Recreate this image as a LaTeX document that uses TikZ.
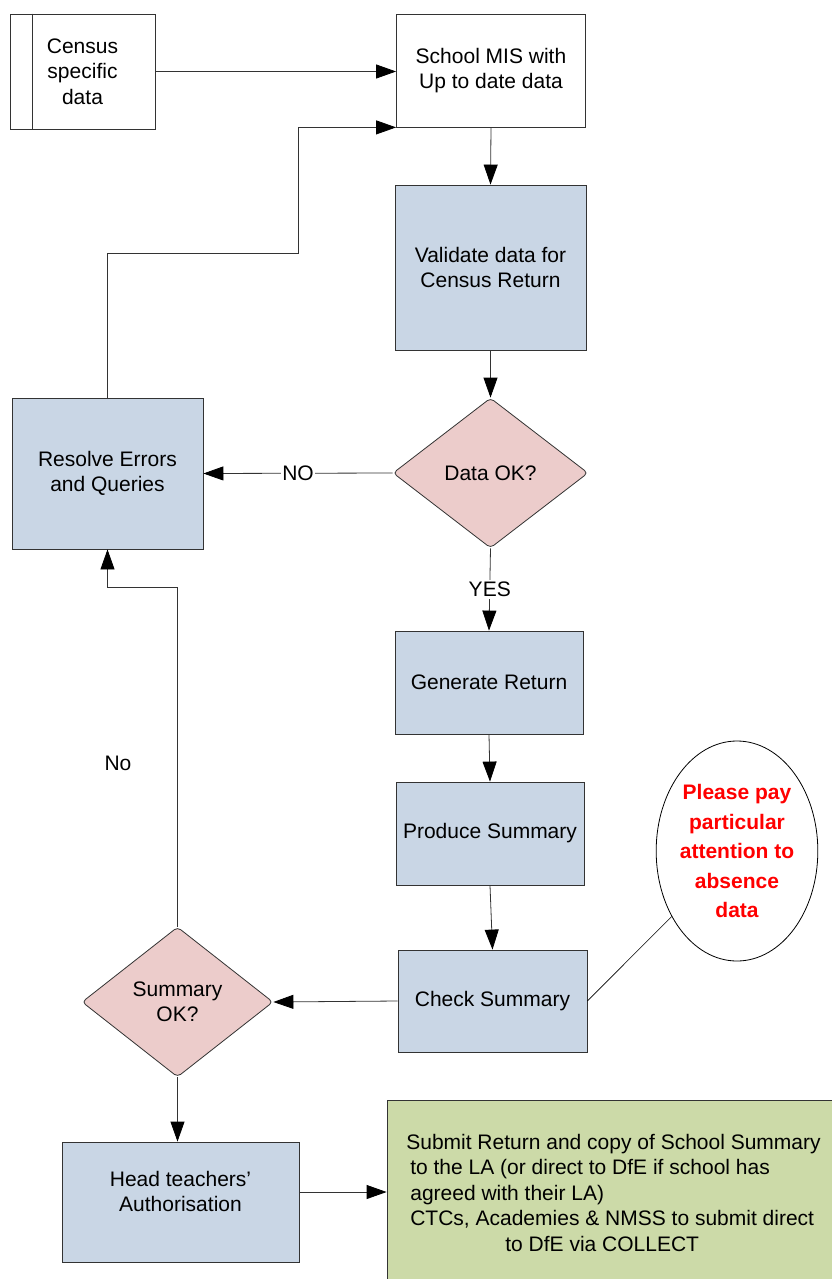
\documentclass[tikz,border=0pt]{standalone}
\usepackage{fontspec}
\setmainfont{Liberation Sans}
\usetikzlibrary{shapes.geometric, arrows.meta}
\definecolor{procblue}{RGB}{201,214,229}
\definecolor{decpink}{RGB}{236,204,203}
\definecolor{subgreen}{RGB}{204,218,168}

\begin{document}
\begin{tikzpicture}[x=1pt, y=-1pt, >={Triangle[length=20pt, width=14pt, color=black]},
	every node/.style={font=\fontsize{21}{25.5}\selectfont, align=center, inner sep=0pt},
	box/.style={rectangle, draw=black!80, line width=0.8pt},
	proc/.style={box, fill=procblue},
	decide/.style={diamond, draw=black!80, line width=0.8pt, fill=decpink, rounded corners=4pt},
	flow/.style={->, draw=black!80, line width=0.8pt}]
			\useasboundingbox (0,0) rectangle (832,1279);
			\node[box, minimum width=145pt, minimum height=115pt] (census) at (82.5,71.5) {Census\\specific\\data};
			\draw[black!80, line width=0.8pt] ([xshift=23pt]census.north west) -- ([xshift=23pt]census.south west);
			\node[box, minimum width=189pt, minimum height=113pt] (mis) at (491,70.5) {School MIS with\\Up to date data};
			\node[proc, minimum width=191pt, minimum height=165pt] (validate) at (490.5,267.5) {Validate data for\\Census Return};
			\node[decide, minimum width=195pt, minimum height=150pt] (dataok) at (490.5,473) {Data OK?};
			\node[proc, minimum width=191pt, minimum height=151pt] (resolve) at (107.5,473.5) {Resolve Errors\\and Queries};
			\node[proc, minimum width=188pt, minimum height=103pt] (generate) at (489,682.5) {Generate Return};
			\node[proc, minimum width=188pt, minimum height=103pt] (produce) at (490,833.5) {Produce Summary};
			\node[proc, minimum width=189pt, minimum height=102pt] (check) at (492.5,1001) {Check Summary};
			\node[decide, minimum width=191pt, minimum height=150pt] (sumok) at (177.5,1002) {Summary\\OK?};
			\node[proc, minimum width=237pt, minimum height=120pt] (head) at (180.5,1202) {Head teachers'\\Authorisation\\[-4pt]\mbox{}};
			\node[box, fill=subgreen, align=left, minimum width=453pt, minimum height=185pt] (submit) at (613.5,1192.5) {Submit Return and copy of School Summary\\\hspace*{4pt}to the LA (or direct to DfE if school has\\\hspace*{4pt}agreed with their LA)\\\hspace*{4pt}CTCs, Academies \& NMSS to submit direct\\\hspace*{99pt}to DfE via COLLECT};
			\node[ellipse, draw=black, line width=0.8pt, fill=white, minimum width=150pt, minimum height=220pt, text=red, font=\fontsize{21}{29.5}\selectfont\bfseries] (note) at (737,851) {Please pay\\particular\\attention to\\absence\\data};
			\node (nolabel) at (118,763) {No};
			\coordinate (benda) at (298,253);
			\coordinate (bendb) at (177.5,587);
			\coordinate (headout) at ([yshift=10pt]head.east);
			\draw[flow] (census.east) -- (mis.west |- census.east);
			\draw[flow] (resolve.north) |- (benda) |- (mis.south west);
			\draw[flow] (mis.south) -- (validate.north);
			\draw[flow] (validate.south) -- (dataok.north);
			\draw[flow] (dataok.west) -- node[fill=white, inner xsep=1pt] {NO} (resolve.east);
			\draw[flow] (dataok.south) -- node[fill=white, inner ysep=2pt] {YES} (generate.north);
			\draw[flow] (generate.south) -- (produce.north);
			\draw[flow] (produce.south) -- (check.north);
			\draw[flow] (check.west) -- (sumok.east);
			\draw[flow] (sumok.north) -- (bendb) -| (resolve.south);
			\draw[flow] (sumok.south) -- (sumok.south |- head.north);
			\draw[flow] (headout) -- (headout -| submit.west);
			\draw[black, line width=0.6pt] (check.east) -- (note);
		\end{tikzpicture}
\end{document}
